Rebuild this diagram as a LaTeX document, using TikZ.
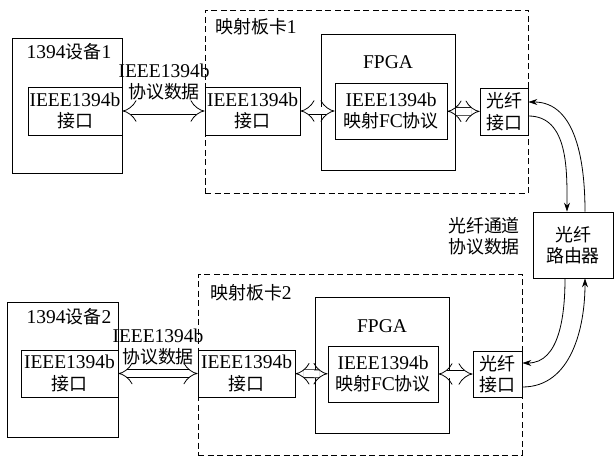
\documentclass[tikz,border=0pt]{standalone}
\usepackage{fontspec}
\setmainfont{Liberation Serif}
\newfontfamily\cjk{Noto Sans CJK SC}[Scale=0.92]
\usetikzlibrary{arrows.meta}
\newcommand{\zh}[1]{{\cjk #1}}
\tikzset{
  box/.style={draw, line width=0.8pt, inner sep=0pt, align=center},
  board/.style={draw, dashed, dash pattern=on 6pt off 3.5pt, line width=0.9pt},
  txt/.style={inner sep=0pt, align=center},
  bus/.style={double, double distance=7pt, line width=0.8pt, {Implies[scale=1.4]}-{Implies[scale=1.4]}},
  fib/.style={line width=0.8pt, -{Stealth[length=9pt,width=6pt]}}
}
\begin{document}
\begin{tikzpicture}[x=1pt, y=-1pt, font=\fontsize{19.5}{21.5}\selectfont]
\useasboundingbox (0,0) rectangle (615,457);
% upper board
\node[box, minimum width=110pt, minimum height=135pt] (dev1) at (67,105.5){};
\node[txt] (dev1t) at (69,52){1394\zh{设备}1};
\node[box, minimum width=94pt, minimum height=48pt] (if1) at (75,111){IEEE1394b\\\zh{接口}};
\node[board, minimum width=323pt, minimum height=183pt] (brd1) at (366.5,101.5){};
\node[txt, anchor=west] (brd1t) at (215,27){\zh{映射板卡}1};
\node[box, minimum width=95pt, minimum height=48pt] (bif1) at (252.5,111){IEEE1394b\\\zh{接口}};
\node[box, minimum width=134pt, minimum height=136pt] (fpga1) at (388,102){};
\node[txt] (fpga1t) at (388,62){FPGA};
\node[box, minimum width=112pt, minimum height=56pt] (map1) at (391,111){IEEE1394b\\\zh{映射}FC\zh{协议}};
\node[box, minimum width=48pt, minimum height=47pt] (gx1) at (504,111.5){\zh{光纤}\\\zh{接口}};
\node[txt] (pr1) at (164,82){IEEE1394b\\\zh{协议数据}};
\draw[bus](if1) -- (bif1);
\draw[bus](bif1) -- (map1);
\draw[bus](map1) -- (gx1);
% router
\node[box, minimum width=80pt, minimum height=66pt] (router) at (573,245){\zh{光纤}\\\zh{路由器}};
\node[txt] (chn) at (484,236){\zh{光纤通道}\\\zh{协议数据}};
% lower board
\node[box, minimum width=111pt, minimum height=135pt] (dev2) at (62.5,369.5){};
\node[txt] (dev2t) at (69,317){1394\zh{设备}2};
\node[box, minimum width=97pt, minimum height=47pt] (if2) at (69.5,373.5){IEEE1394b\\\zh{接口}};
\node[board, minimum width=324pt, minimum height=181pt] (brd2) at (360,364.5){};
\node[txt, anchor=west] (brd2t) at (210,293){\zh{映射板卡}2};
\node[box, minimum width=97pt, minimum height=47pt] (bif2) at (246.5,373.5){IEEE1394b\\\zh{接口}};
\node[box, minimum width=134pt, minimum height=136pt] (fpga2) at (382,365){};
\node[txt] (fpga2t) at (382,326){FPGA};
\node[box, minimum width=110pt, minimum height=56pt] (map2) at (383,374){IEEE1394b\\\zh{映射}FC\zh{协议}};
\node[box, minimum width=49pt, minimum height=46pt] (gx2) at (497.5,374){\zh{光纤}\\\zh{接口}};
\node[txt] (pr2) at (158,347){IEEE1394b\\\zh{协议数据}};
\draw[bus](if2) -- (bif2);
\draw[bus](bif2) -- (map2);
\draw[bus](map2) -- (gx2);
% fibre links
\draw[fib]([xshift=12pt]router.north) to[out=90,in=0] ([yshift=9.5pt]gx1.east);
\draw[fib]([yshift=-4.5pt]gx1.east) to[out=0,in=90] ([xshift=-6pt]router.north);
\draw[fib]([xshift=-8pt]router.south) to[out=-90,in=0] ([yshift=11pt]gx2.east);
\draw[fib]([yshift=-13pt]gx2.east) to[out=0,in=-90] ([xshift=12pt]router.south);
\end{tikzpicture}
\end{document}
